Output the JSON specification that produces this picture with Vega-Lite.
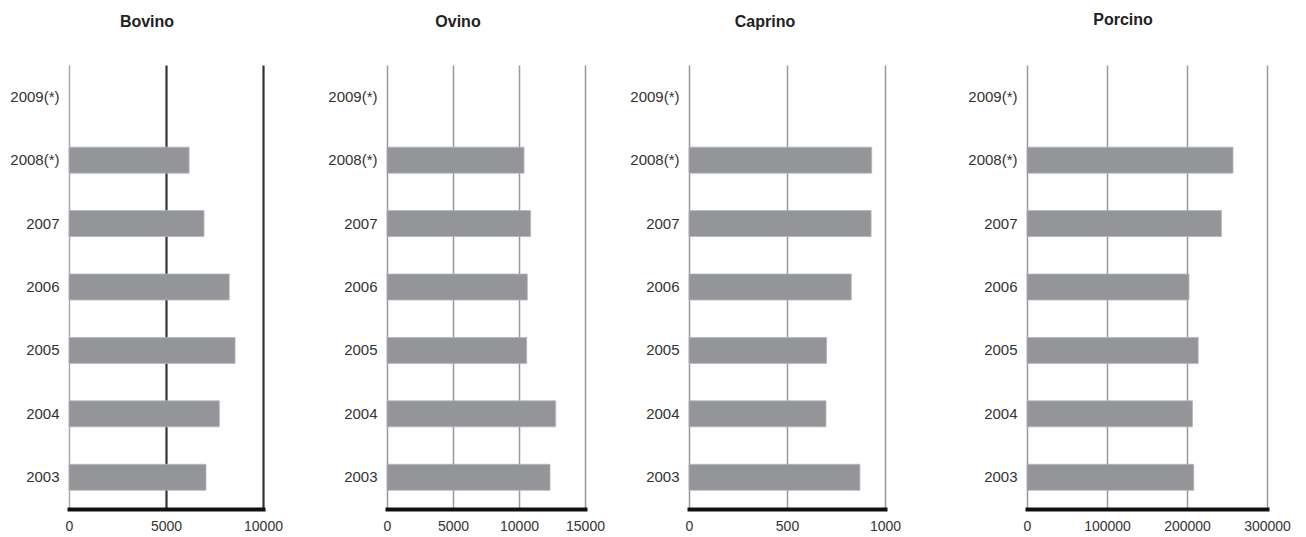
{
  "$schema": "https://vega.github.io/schema/vega-lite/v6.json",
  "padding": {"left": 9, "top": 12, "right": 0, "bottom": 0},
  "bounds": "flush",
  "spacing": 100,
  "config": {
    "view": {"stroke": null},
    "font": "Liberation Sans",
    "title": {"fontSize": 16, "fontWeight": "bold", "color": "#222222", "offset": 35, "anchor": "middle"},
    "axisY": {"domain": false, "ticks": false, "grid": false, "labelFontSize": 15, "labelColor": "#333333", "labelPadding": 10, "title": null},
    "axisX": {"domain": true, "domainColor": "#111111", "domainWidth": 4, "domainCap": "square", "ticks": false, "grid": true, "gridColor": "#999999", "gridWidth": 1.5, "labelFontSize": 14, "labelColor": "#333333", "labelPadding": 10, "labelFlush": false, "labelOverlap": false, "title": null, "format": "d"},
    "bar": {"color": "#939598", "stroke": "#b5b5b5", "strokeWidth": 0.8}
  },
  "data": {"values": [
    {"especie": "Bovino", "anio": "2008(*)", "valor": 6190},
    {"especie": "Bovino", "anio": "2007", "valor": 6960},
    {"especie": "Bovino", "anio": "2006", "valor": 8260},
    {"especie": "Bovino", "anio": "2005", "valor": 8560},
    {"especie": "Bovino", "anio": "2004", "valor": 7750},
    {"especie": "Bovino", "anio": "2003", "valor": 7060},
    {"especie": "Ovino", "anio": "2008(*)", "valor": 10380},
    {"especie": "Ovino", "anio": "2007", "valor": 10880},
    {"especie": "Ovino", "anio": "2006", "valor": 10630},
    {"especie": "Ovino", "anio": "2005", "valor": 10580},
    {"especie": "Ovino", "anio": "2004", "valor": 12780},
    {"especie": "Ovino", "anio": "2003", "valor": 12350},
    {"especie": "Caprino", "anio": "2008(*)", "valor": 932},
    {"especie": "Caprino", "anio": "2007", "valor": 929},
    {"especie": "Caprino", "anio": "2006", "valor": 828},
    {"especie": "Caprino", "anio": "2005", "valor": 702},
    {"especie": "Caprino", "anio": "2004", "valor": 699},
    {"especie": "Caprino", "anio": "2003", "valor": 872},
    {"especie": "Porcino", "anio": "2008(*)", "valor": 257500},
    {"especie": "Porcino", "anio": "2007", "valor": 243000},
    {"especie": "Porcino", "anio": "2006", "valor": 202500},
    {"especie": "Porcino", "anio": "2005", "valor": 214000},
    {"especie": "Porcino", "anio": "2004", "valor": 206800},
    {"especie": "Porcino", "anio": "2003", "valor": 208400}
  ]},
  "hconcat": [
    {
      "title": {"text": "Bovino", "dx": -31},
      "width": 218, "height": 444,
      "transform": [{"filter": "datum.especie === 'Bovino'"}],
      "mark": {"type": "bar"},
      "encoding": {
        "y": {"field": "anio", "type": "nominal", "scale": {"domain": ["2009(*)", "2008(*)", "2007", "2006", "2005", "2004", "2003"], "paddingInner": 0.59, "paddingOuter": 0.295}},
        "x": {"field": "valor", "type": "quantitative", "scale": {"domain": [0, 10000], "range": [0, 194], "nice": false},
              "axis": {"values": [0, 5000, 10000], "gridColor": {"condition": {"test": "datum.value > 0", "value": "#333333"}, "value": "#aaaaaa"}, "gridWidth": {"condition": {"test": "datum.value > 0", "value": 2.2}, "value": 1.5}}}
      }
    },
    {
      "title": {"text": "Ovino", "dx": -30},
      "width": 202, "height": 444,
      "transform": [{"filter": "datum.especie === 'Ovino'"}],
      "mark": {"type": "bar"},
      "encoding": {
        "y": {"field": "anio", "type": "nominal", "scale": {"domain": ["2009(*)", "2008(*)", "2007", "2006", "2005", "2004", "2003"], "paddingInner": 0.59, "paddingOuter": 0.295}},
        "x": {"field": "valor", "type": "quantitative", "scale": {"domain": [0, 15000], "range": [0, 198], "nice": false},
              "axis": {"values": [0, 5000, 10000, 15000]}}
      }
    },
    {
      "title": {"text": "Caprino", "dx": -43},
      "width": 238, "height": 444,
      "transform": [{"filter": "datum.especie === 'Caprino'"}],
      "mark": {"type": "bar"},
      "encoding": {
        "y": {"field": "anio", "type": "nominal", "scale": {"domain": ["2009(*)", "2008(*)", "2007", "2006", "2005", "2004", "2003"], "paddingInner": 0.59, "paddingOuter": 0.295}},
        "x": {"field": "valor", "type": "quantitative", "scale": {"domain": [0, 1000], "range": [0, 196], "nice": false},
              "axis": {"values": [0, 500, 1000]}}
      }
    },
    {
      "title": {"text": "Porcino", "dx": -24, "dy": -2},
      "width": 240, "height": 444,
      "transform": [{"filter": "datum.especie === 'Porcino'"}],
      "mark": {"type": "bar"},
      "encoding": {
        "y": {"field": "anio", "type": "nominal", "scale": {"domain": ["2009(*)", "2008(*)", "2007", "2006", "2005", "2004", "2003"], "paddingInner": 0.59, "paddingOuter": 0.295}},
        "x": {"field": "valor", "type": "quantitative", "scale": {"domain": [0, 300000], "range": [0, 240], "nice": false},
              "axis": {"values": [0, 100000, 200000, 300000]}}
      }
    }
  ]
}
